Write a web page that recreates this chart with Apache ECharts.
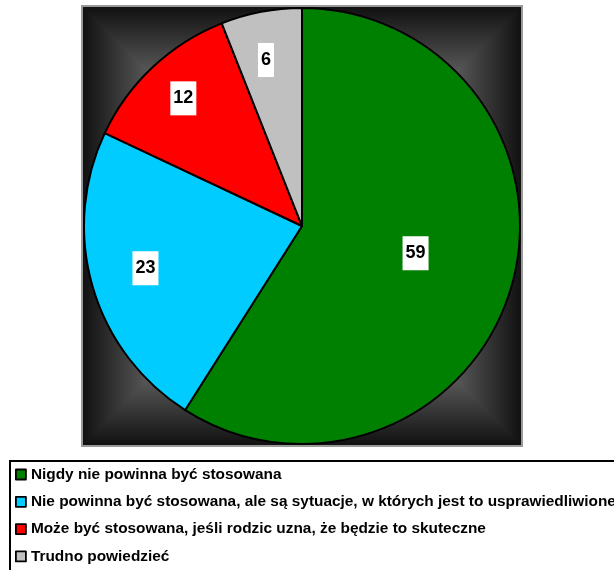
<!DOCTYPE html>
<html>
<head>
<meta charset="utf-8">
<script src="https://cdn.jsdelivr.net/npm/echarts@6/dist/echarts.min.js"></script>
<style>
  html, body { margin: 0; padding: 0; background: #fff; }
  #chart { width: 614px; height: 570px; }
</style>
</head>
<body>
<div id="chart"></div>
<script>
// dane z wykresu (%)
const categories = [
  'Nigdy nie powinna być stosowana',
  'Nie powinna być stosowana, ale są sytuacje, w których jest to usprawiedliwione',
  'Może być stosowana, jeśli rodzic uzna, że będzie to skuteczne',
  'Trudno powiedzieć'
];
const values = [59, 23, 12, 6];
const colors = ['#008000', '#00CCFF', '#FF0000', '#C0C0C0'];
// przesunięcia etykiet względem środka wycinka (jak w oryginale z Excela)
const labelOffsets = [[6, -4], [-49, 11], [-42, -46], [-15, -56]];

// tło: kwadrat z gradientem "prostokątnym" (ciemne brzegi, jasny środek)
const box = { x: 83, y: 7, w: 438, h: 438 };
const cx = box.x + box.w / 2, cy = box.y + box.h / 2;
const stops = [{ offset: 0, color: '#111111' }, { offset: 1, color: '#ffffff' }];
function tri(points, g) {
  return {
    type: 'polygon', silent: true, z: -10,
    shape: { points: points },
    style: { fill: Object.assign({ type: 'linear', colorStops: stops }, g) }
  };
}
const L = box.x, R = box.x + box.w, T = box.y, B = box.y + box.h;

const chart = echarts.init(document.getElementById('chart'));
chart.setOption({
  animation: false,
  backgroundColor: '#fff',
  graphic: [
    {
      type: 'rect', silent: true, z: -11,
      shape: { x: L, y: T, width: box.w, height: box.h },
      style: {
        fill: { type: 'radial', x: 0.5, y: 0.5, r: 0.7, colorStops: [
          { offset: 0, color: '#ffffff' }, { offset: 1, color: '#111111' }] }
      }
    },
    tri([[L, T], [R, T], [cx, cy]], { x: 0, y: 0, x2: 0, y2: 1 }),
    tri([[L, B], [R, B], [cx, cy]], { x: 0, y: 1, x2: 0, y2: 0 }),
    tri([[L, T], [L, B], [cx, cy]], { x: 0, y: 0, x2: 1, y2: 0 }),
    tri([[R, T], [R, B], [cx, cy]], { x: 1, y: 0, x2: 0, y2: 0 }),
    {
      type: 'rect', silent: true, z: -9,
      shape: { x: L - 1, y: T - 1, width: box.w + 2, height: box.h + 2 },
      style: { fill: 'none', stroke: '#999', lineWidth: 2 }
    }
  ],
  legend: {
    orient: 'vertical',
    left: 10,
    top: 461,
    height: 200,
    itemWidth: 10,
    itemHeight: 10,
    itemGap: 12.3,
    padding: [6, 8, 14, 5],
    backgroundColor: '#fff',
    borderColor: '#000',
    borderWidth: 2,
    borderRadius: 0,
    selectedMode: false,
    icon: 'rect',
    itemStyle: { borderColor: '#000', borderWidth: 1.8 },
    textStyle: {
      fontFamily: 'Arial, "Liberation Sans", sans-serif',
      fontWeight: 'bold',
      fontSize: 15.4,
      color: '#000'
    },
    data: categories
  },
  series: [{
    type: 'pie',
    center: [cx, cy],
    radius: [0, 218],
    startAngle: 90,
    clockwise: true,
    z: 2,
    itemStyle: { borderColor: '#000', borderWidth: 2 },
    emphasis: { disabled: true },
    labelLine: { show: false },
    label: {
      show: true,
      position: 'inside',
      formatter: '{c}',
      fontFamily: 'Arial, "Liberation Sans", sans-serif',
      fontWeight: 'bold',
      fontSize: 18,
      color: '#000',
      backgroundColor: '#fff',
      padding: [8, 3, 8, 3]
    },
    data: categories.map(function (name, i) {
      return {
        name: name,
        value: values[i],
        itemStyle: { color: colors[i] },
        label: { offset: labelOffsets[i] }
      };
    })
  }]
});
</script>
</body>
</html>
